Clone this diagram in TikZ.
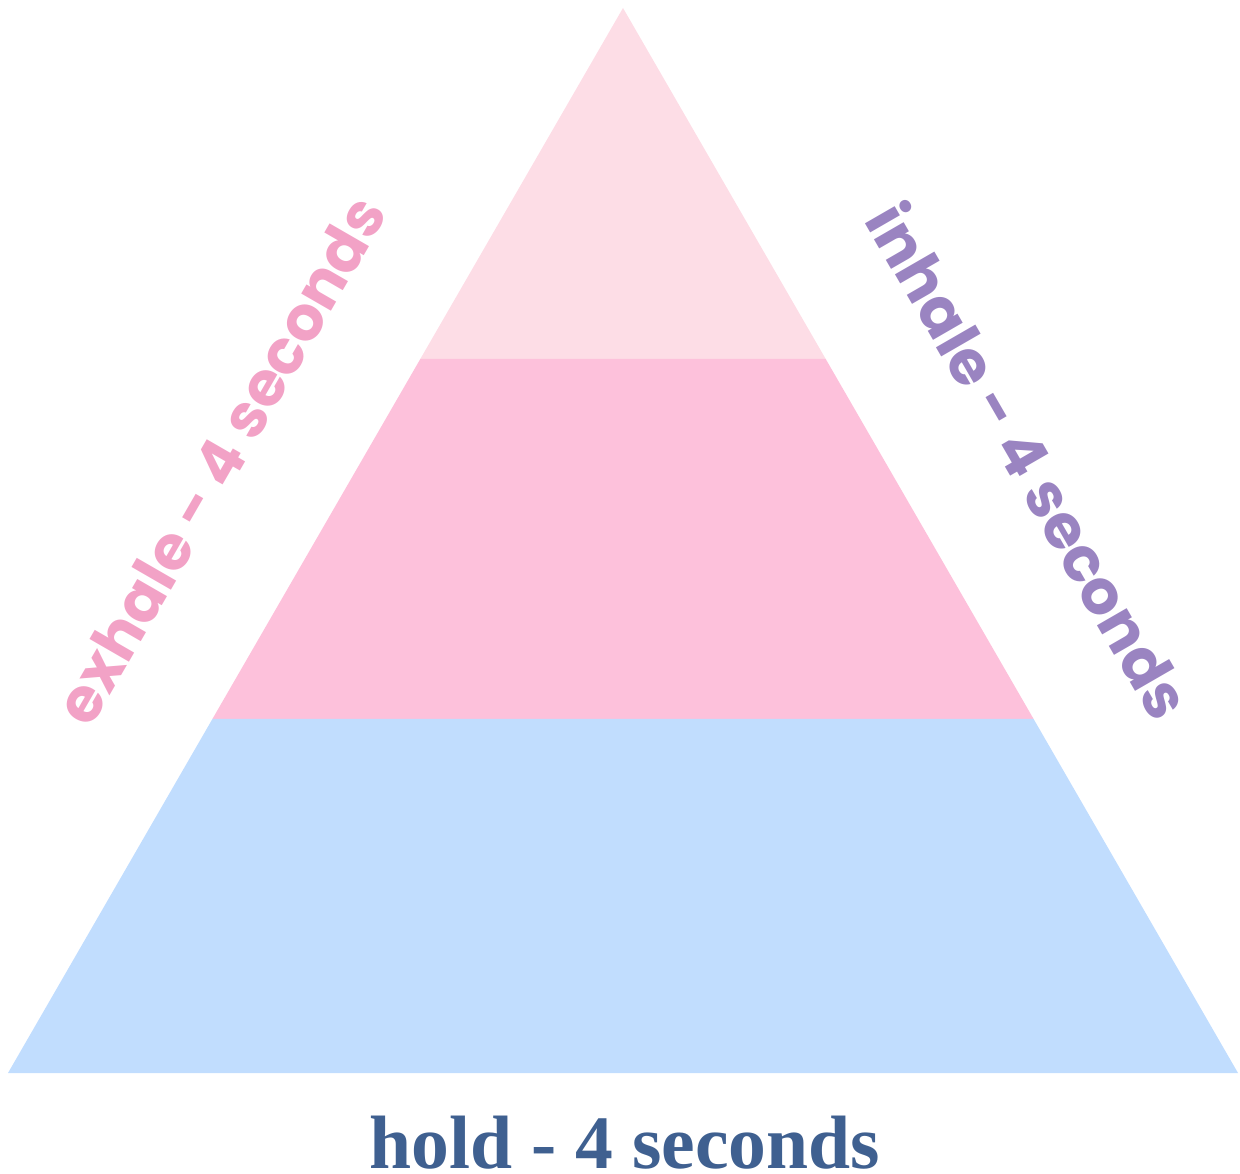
\documentclass[tikz,border=0pt]{standalone}
\usepackage{fontspec}
\setmainfont{Liberation Serif}
\newfontfamily\sidefont{Poppins}
\usepackage{tikz}
\definecolor{inhaleband}{HTML}{FDDDE6}
\definecolor{exhaleband}{HTML}{FDC1DB}
\definecolor{holdband}{HTML}{C1DDFE}
\definecolor{exhaletext}{HTML}{F2A2C6}
\definecolor{inhaletext}{HTML}{9A84C1}
\definecolor{holdtext}{HTML}{3F6090}

\begin{document}
\begin{tikzpicture}[x=0.01cm,y=-0.01cm,
  sidelabel/.style={font=\sidefont\bfseries\fontsize{17.5}{20}\selectfont},
  baselabel/.style={font=\bfseries\fontsize{21.5}{24}\selectfont,inner sep=0pt,anchor=base}]
\path[use as bounding box] (0,0) rectangle (1240,1174);
\fill[inhaleband] (623,8) -- (825.7,359) -- (420.3,359) -- cycle;
\fill[exhaleband] (420.3,359) -- (825.7,359) -- (1033.6,719) -- (212.4,719) -- cycle;
\fill[holdband] (212.4,719) -- (1033.6,719) -- (1238,1073) -- (8,1073) -- cycle;
\node[sidelabel,exhaletext,rotate=60] (exhale) at (220,460) {exhale - 4 seconds};
\node[sidelabel,inhaletext,rotate=-60] (inhale) at (1030,460) {inhale - 4 seconds};
\node[baselabel,holdtext] (hold) at (625,1168) {hold - 4 seconds};
\end{tikzpicture}
\end{document}
